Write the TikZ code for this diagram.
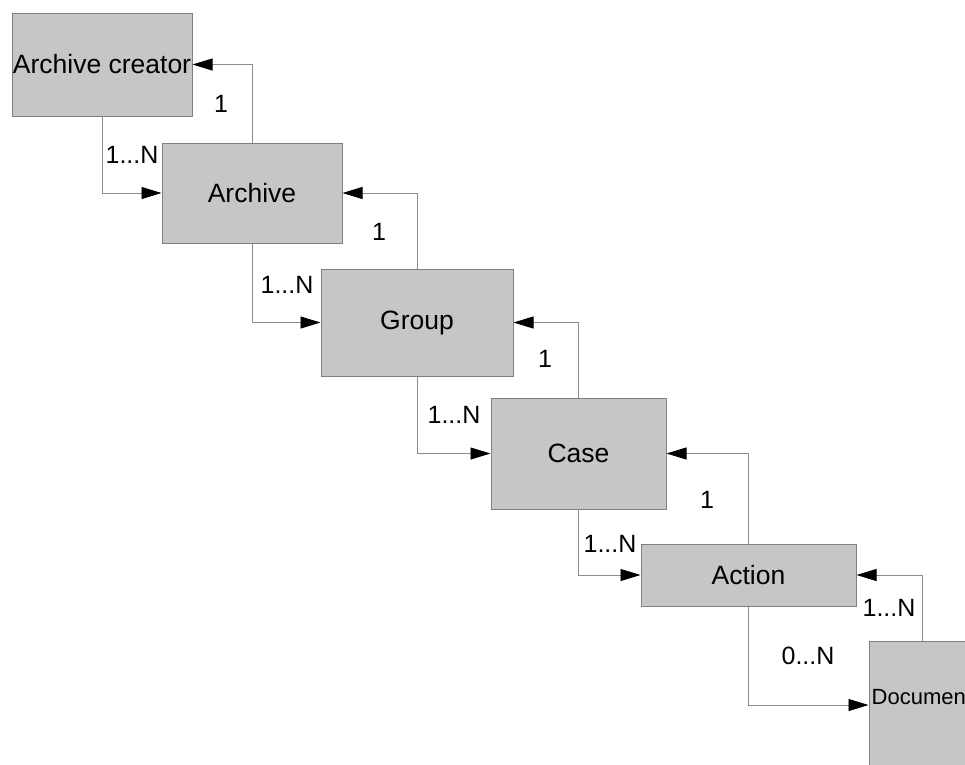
\documentclass[tikz,border=0pt]{standalone}
\usepackage{fontspec}
\setmainfont{Liberation Sans}
\usetikzlibrary{arrows.meta}
\definecolor{boxfill}{RGB}{198,198,198}
\definecolor{boxline}{RGB}{128,128,128}
\definecolor{linkline}{RGB}{140,140,140}
\begin{document}
\begin{tikzpicture}[x=1pt,y=-1pt,
  entity/.style={draw=boxline,fill=boxfill,line width=1pt,inner sep=0pt,
    font=\fontsize{26.5}{29}\selectfont},
  link/.style={draw=linkline,line width=0.9pt,
    -{Triangle[length=20pt,width=12pt,fill=black,color=black]}},
  card/.style={inner sep=0pt,font=\fontsize{25}{27}\selectfont}]
\useasboundingbox[fill=white] (0,0) rectangle (965,764);

% entities
\node[entity,minimum width=180pt,minimum height=103pt] (creator) at (102,64.5) {Archive creator};
\node[entity,minimum width=180pt,minimum height=100pt] (archive) at (252,193) {Archive};
\node[entity,minimum width=192pt,minimum height=107pt] (group) at (417,322.5) {Group};
\node[entity,minimum width=175pt,minimum height=111pt] (case) at (578.5,453.5) {Case};
\node[entity,minimum width=215pt,minimum height=62pt] (action) at (748.5,575) {Action};
\node[entity,minimum width=106pt,minimum height=128pt] (doc) at (922,705) {};
\node[anchor=base west,inner sep=0pt,font=\fontsize{22}{24}\selectfont]
  (doclabel) at ([xshift=3pt,yshift=1pt]doc.west) {Document};

% parent to child
\draw[link] (creator.south) |- (archive.west);
\draw[link] (archive.south) |- (group.west);
\draw[link] (group.south) |- (case.west);
\draw[link] (case.south) |- (action.west);
\draw[link] (action.south) |- (doc.west);

% child to parent
\draw[link] (archive.north) |- (creator.east);
\draw[link] (group.north) |- (archive.east);
\draw[link] (case.north) |- (group.east);
\draw[link] (action.north) |- (case.east);
\draw[link] (doc.north) |- (action.east);

% cardinalities
\node[card] (c1) at (132,155) {1...N};
\node[card] (p1) at (221,104) {1};
\node[card] (c2) at (287,285) {1...N};
\node[card] (p2) at (379,232) {1};
\node[card] (c3) at (454,415) {1...N};
\node[card] (p3) at (545,359) {1};
\node[card] (c4) at (610,544) {1...N};
\node[card] (p4) at (707,500) {1};
\node[card] (c5) at (808,656) {0...N};
\node[card] (p5) at (889,608) {1...N};
\end{tikzpicture}
\end{document}
